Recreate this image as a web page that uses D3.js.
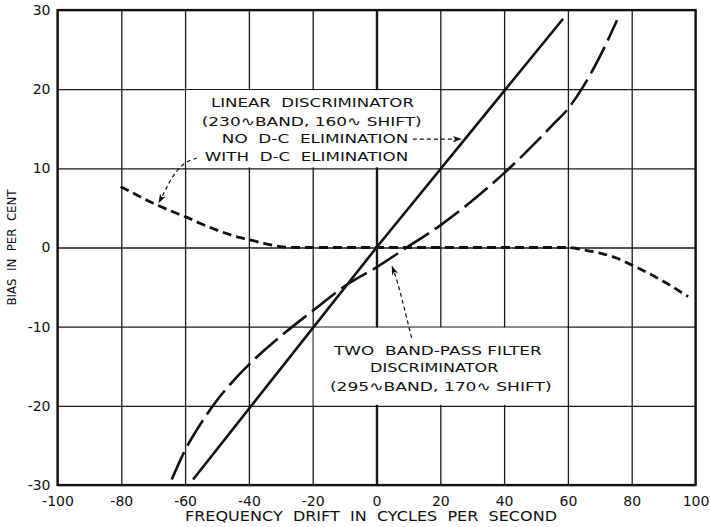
<!DOCTYPE html>
<html>
<head>
<meta charset="utf-8">
<script src="https://cdn.jsdelivr.net/npm/d3@7"></script>
<style>
  body { margin: 0; background: #fff; }
  svg { display: block; font-family: "DejaVu Sans", sans-serif; }
  svg text { white-space: pre; }
</style>
</head>
<body>
<svg id="chart" width="710" height="527"></svg>
<script>
// tick values
var xTicks = [-100, -80, -60, -40, -20, 0, 20, 40, 60, 80, 100];
var yTicks = [-30, -20, -10, 0, 10, 20, 30];

// linear discriminator, no d-c elimination (solid)
var linearX = [-57.5, 0, 58.5];
var linearY = [-29.3, 0, 28.9];

// two band-pass filter discriminator (long dash)
var bandX = [-64.2, -60, -55, -50, -45, -40, -30, -20, -9.3, 0, 9.5, 20, 30, 40, 50, 55, 60, 64.3, 70, 75.4];
var bandY = [-29.3, -25.6, -22.2, -19.3, -16.9, -14.8, -11.2, -8.0, -4.7, -2.5, 0, 2.8, 5.9, 9.4, 13.3, 15.4, 17.5, 20, 24.1, 28.7];

// with d-c elimination (short dash)
var dcX = [-80.2, -75, -70, -65, -60, -55, -50, -45, -40, -35, -30, -25, 0, 30, 60, 65, 70, 75, 80, 85, 90, 97.7];
var dcY = [7.7, 6.6, 5.6, 4.7, 3.9, 3.0, 2.2, 1.5, 1.0, 0.5, 0.1, 0, 0, 0, 0, -0.3, -0.7, -1.3, -2.2, -3.2, -4.3, -6.2];

var svg = d3.select("#chart");
var margin = {top: 10, right: 14.5, bottom: 42, left: 57.5},
    width = 710 - margin.left - margin.right,
    height = 527 - margin.top - margin.bottom;

var x = d3.scaleLinear().domain([-100, 100]).range([0, width]);
var y = d3.scaleLinear().domain([-30, 30]).range([height, 0]);

var g = svg.append("g").attr("transform", "translate(" + margin.left + "," + margin.top + ")");

svg.append("defs").append("marker")
  .attr("id", "arrow")
  .attr("viewBox", "0 0 10 10")
  .attr("refX", 9).attr("refY", 5)
  .attr("markerWidth", 9).attr("markerHeight", 9)
  .attr("markerUnits", "userSpaceOnUse")
  .attr("orient", "auto")
  .append("path")
    .attr("d", "M0,1.5L10,5L0,8.5L2.5,5Z")
    .attr("fill", "#111");

// grid + tick labels
var xAxis = g.append("g")
  .attr("transform", "translate(0," + height + ")")
  .call(d3.axisBottom(x).tickValues(xTicks).tickSize(-height).tickPadding(11).tickFormat(function(d) { return String(d); }));
var yAxis = g.append("g")
  .call(d3.axisLeft(y).tickValues(yTicks).tickSize(-width).tickPadding(7).tickFormat(function(d) { return String(d); }));

[xAxis, yAxis].forEach(function(a) {
  a.select(".domain").remove();
  a.selectAll("line").attr("stroke", "#1a1a1a").attr("stroke-width", 1.3);
  a.selectAll("text").attr("fill", "#111").style("font-size", "14px").style("font-family", "DejaVu Sans, sans-serif");
});
xAxis.selectAll(".tick").filter(function(d) { return d === 0; }).select("line").attr("stroke-width", 2.4);
yAxis.selectAll(".tick").filter(function(d) { return d === 0; }).select("line").attr("stroke-width", 1.6);

// white label boxes (inset so the grid lines on their edges stay)
function box(x0, y0, x1, y1) {
  g.append("rect")
    .attr("x", x(x0) + 1).attr("y", y(y0) + 1)
    .attr("width", x(x1) - x(x0) - 2).attr("height", y(y1) - y(y0) - 2)
    .attr("fill", "#fff");
}
box(-60, 20, 20, 10);
box(-20, -10, 60, -20);

// frame
g.append("rect").attr("width", width).attr("height", height)
  .attr("fill", "none").attr("stroke", "#111").attr("stroke-width", 2.2);

// curves
function pts(xs, ys) { return xs.map(function(v, i) { return [v, ys[i]]; }); }
var line = d3.line()
  .x(function(d) { return x(d[0]); })
  .y(function(d) { return y(d[1]); })
  .curve(d3.curveMonotoneX);

g.append("path").datum(pts(dcX, dcY))
  .attr("fill", "none").attr("stroke", "#111").attr("stroke-width", 2.8)
  .attr("stroke-dasharray", "9,5").attr("d", line);

g.append("path").datum(pts(bandX, bandY))
  .attr("fill", "none").attr("stroke", "#111").attr("stroke-width", 2.6)
  .attr("stroke-dasharray", "30,7").attr("d", line);

g.append("path").datum(pts(linearX, linearY))
  .attr("fill", "none").attr("stroke", "#111").attr("stroke-width", 2.6)
  .attr("d", d3.line().x(function(d) { return x(d[0]); }).y(function(d) { return y(d[1]); }));

// annotation arrows (data coordinates)
var arrowLine = d3.line()
  .x(function(d) { return x(d[0]); })
  .y(function(d) { return y(d[1]); })
  .curve(d3.curveBasis);

[
  [[11.4, 13.7], [26.5, 13.7]],
  [[-56.3, 11.3], [-60.5, 10.8], [-64.6, 8.6], [-66.2, 7.2], [-68.2, 5.7]],
  [[11.0, -11.4], [8.0, -6.5], [6.2, -3.8], [4.9, -2.4]]
].forEach(function(p) {
  g.append("path").datum(p)
    .attr("fill", "none").attr("stroke", "#111").attr("stroke-width", 1.2)
    .attr("stroke-dasharray", "4,3")
    .attr("marker-end", "url(#arrow)")
    .attr("d", arrowLine);
});

// annotation texts: [text, x start, y baseline, pixel length]
var labels = [
  ["LINEAR  DISCRIMINATOR", -51.9, 17.8, 203],
  ["(230\u223FBAND, 160\u223F SHIFT)", -54.8, 15.4, 220],
  ["NO  D-C  ELIMINATION", -48.5, 13.2, 186.6],
  ["WITH  D-C  ELIMINATION", -53.8, 10.9, 203.3],
  ["TWO  BAND-PASS FILTER", -13.3, -13.6, 207.7],
  ["DISCRIMINATOR", -2.0, -15.7, 128.3],
  ["(295\u223FBAND, 170\u223F SHIFT)", -14.6, -18.1, 221.7]
];
g.selectAll(".lbl").data(labels).enter().append("text")
  .attr("class", "lbl")
  .attr("x", function(d) { return x(d[1]); })
  .attr("y", function(d) { return y(d[2]); })
  .attr("textLength", function(d) { return d[3]; })
  .attr("lengthAdjust", "spacingAndGlyphs")
  .attr("fill", "#111")
  .style("font-size", "13px")
  .text(function(d) { return d[0]; });

// axis titles
svg.append("text")
  .attr("x", 185).attr("y", 520.5)
  .attr("textLength", 372).attr("lengthAdjust", "spacingAndGlyphs")
  .attr("fill", "#111").style("font-size", "14px")
  .text("FREQUENCY  DRIFT  IN  CYCLES  PER  SECOND");

svg.append("text")
  .attr("transform", "translate(16," + (margin.top + y(0)) + ") rotate(-90)")
  .attr("text-anchor", "middle")
  .attr("textLength", 116).attr("lengthAdjust", "spacingAndGlyphs")
  .attr("fill", "#111").style("font-size", "13px")
  .text("BIAS  IN  PER  CENT");
</script>
</body>
</html>
